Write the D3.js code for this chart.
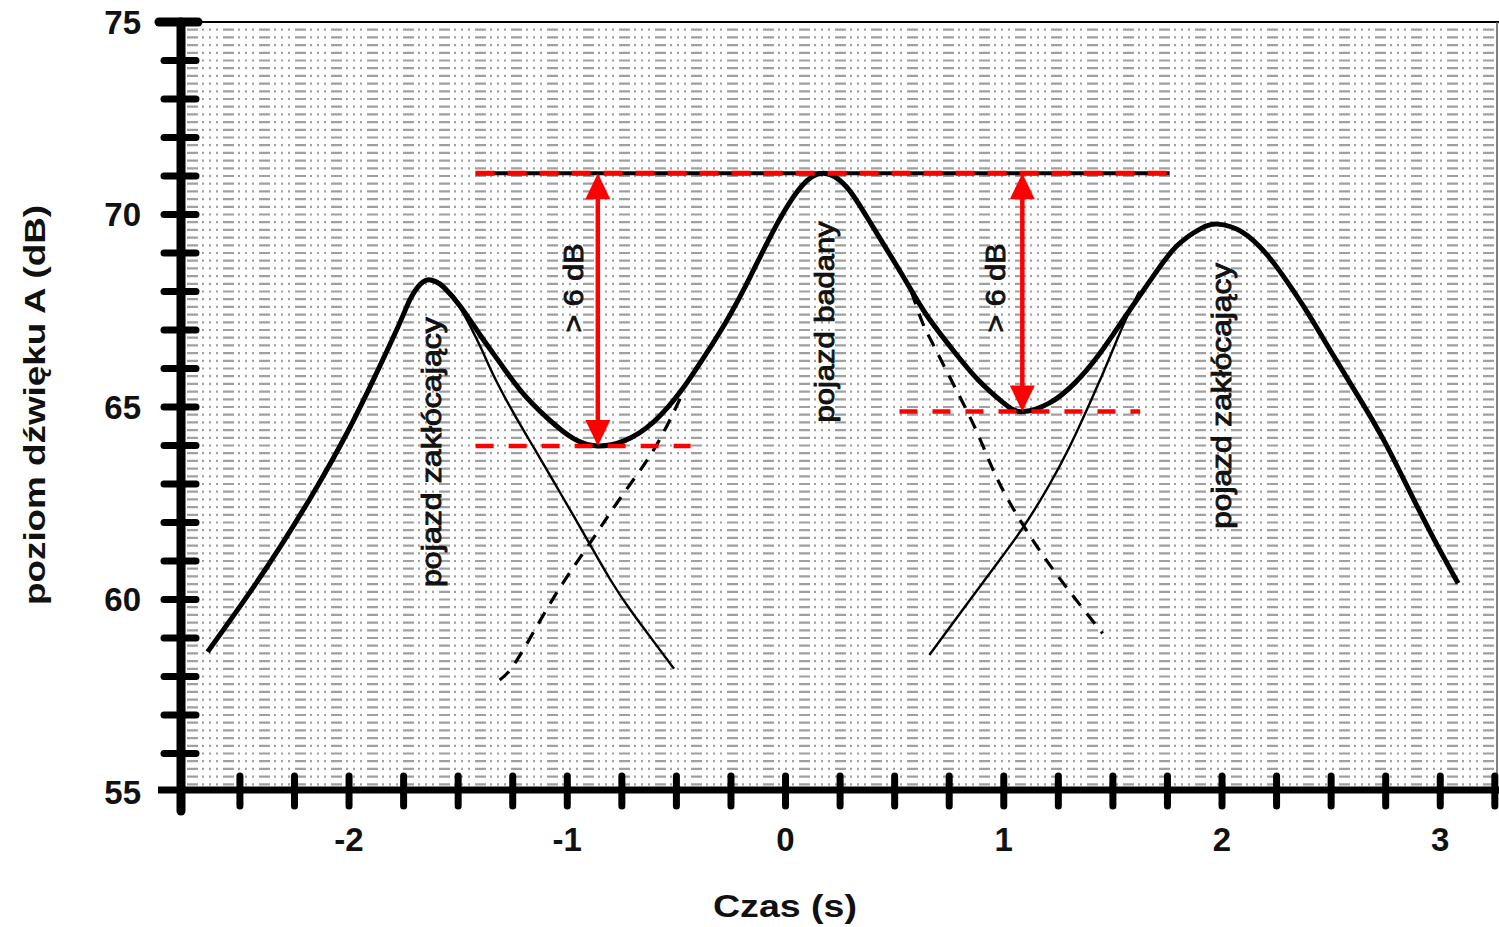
<!DOCTYPE html>
<html><head><meta charset="utf-8">
<script src="https://cdn.jsdelivr.net/npm/d3@7"></script>
<style>html,body{margin:0;padding:0;background:#fff;overflow:hidden}svg{display:block}</style>
</head><body>
<svg id="c" width="1499" height="927"></svg>
<script>
// ---- data (time in s, level in dB(A)) ----
const totalTime  = [-2.648,-2.465,-2.312,-2.160,-2.007,-1.885,-1.778,-1.720,-1.680,-1.641,-1.600,-1.564,-1.488,-1.397,-1.305,-1.213,-1.091,-0.969,-0.862,-0.740,-0.603,-0.481,-0.394,-0.277,-0.162,-0.046,0.071,0.175,0.279,0.372,0.465,0.558,0.651,0.767,0.883,1.000,1.085,1.208,1.325,1.440,1.557,1.673,1.789,1.905,1.979,2.091,2.207,2.299,2.392,2.509,2.625,2.741,2.857,2.973,3.082];
const totalLevel = [58.64,60.10,61.40,62.80,64.35,65.75,67.05,67.80,68.15,68.30,68.25,68.10,67.60,66.85,66.12,65.42,64.71,64.17,63.99,64.12,64.62,65.40,66.12,67.17,68.38,69.68,70.72,71.07,70.72,69.94,69.08,68.21,67.35,66.48,65.70,65.10,64.88,65.10,65.62,66.39,67.35,68.30,69.16,69.64,69.75,69.55,68.95,68.25,67.45,66.35,65.27,64.14,62.84,61.55,60.42];

const disturb1Time  = [-1.641,-1.564,-1.488,-1.397,-1.336,-1.244,-1.152,-1.061,-0.969,-0.893,-0.801,-0.710,-0.603,-0.511];
const disturb1Level = [68.30,68.10,67.55,66.55,65.80,64.82,63.93,63.05,62.15,61.40,60.50,59.72,58.90,58.20];

const testedRiseTime  = [-1.310,-1.228,-1.061,-0.893,-0.755,-0.603,-0.472];
const testedRiseLevel = [57.91,58.45,60.06,61.49,62.65,63.90,65.35];

const testedFallTime  = [0.577,0.627,0.674,0.751,0.873,0.980,1.132,1.285,1.453];
const testedFallLevel = [67.99,67.20,66.65,65.79,64.40,63.02,61.55,60.33,59.12];

const disturb2Time  = [0.659,0.827,0.980,1.094,1.209,1.300,1.364,1.438,1.497,1.561,1.621];
const disturb2Level = [58.56,59.85,61.02,61.92,62.98,63.95,64.72,65.66,66.45,67.30,68.00];

const peakLevel = 71.07, troughLevels = [63.99, 64.88], troughTimes = [-0.86, 1.085];
const peakLineRange = [-1.42, 1.76];
const troughLineRanges = [[-1.42, -0.435], [0.522, 1.625]];

const xMajorTicks = [-2, -1, 0, 1, 2, 3];
const xMinorTicks = d3.range(-2.5, 3.26, 0.25);
const yMajorTicks = [55, 60, 65, 70, 75];
const yMinorTicks = d3.range(56, 75, 1);
const gridRows = d3.range(55.2, 74.95, 0.2);

const labels = [
  {text: "pojazd zakłócający", t: -1.621, v: 63.83, len: 270},
  {text: "pojazd badany",      t: 0.179,  v: 67.21, len: 201},
  {text: "pojazd zakłócający", t: 2.001,  v: 65.29, len: 266},
  {text: "> 6 dB",             t: -0.971, v: 68.09, len: 89},
  {text: "> 6 dB",             t: 0.966,  v: 68.09, len: 89}
];
const xTitle = "Czas (s)";
const yTitle = "poziom dźwięku A (dB)";

// ---- drawing ----
const svg = d3.select("#c");
const x = d3.scaleLinear().domain([-2.77, 3.26]).range([181, 1497]);
const y = d3.scaleLinear().domain([55, 75]).range([792, 22]);
const FONT = "'Liberation Sans', Arial, sans-serif";

// grid texture
svg.append("g").selectAll("line").data(gridRows).join("line")
  .attr("x1", x(-2.77) + 6).attr("x2", x(3.26))
  .attr("y1", d => y(d)).attr("y2", d => y(d))
  .attr("stroke", "#a0a0a0").attr("stroke-width", 2.2)
  .attr("stroke-dasharray", "11,4,2,5,2,5,2,5");

// frame top/right
svg.append("line").attr("x1", x(-2.77)).attr("x2", 1499).attr("y1", y(75)).attr("y2", y(75))
  .attr("stroke", "#000").attr("stroke-width", 2);
svg.append("line").attr("x1", x(3.26)).attr("x2", x(3.26)).attr("y1", y(75)).attr("y2", y(55))
  .attr("stroke", "#555").attr("stroke-width", 1.5);

const line = d3.line().x(d => x(d[0])).y(d => y(d[1])).curve(d3.curveNatural);
const pts = (ts, vs) => ts.map((t, i) => [t, vs[i]]);

// component curves
svg.append("path").attr("d", line(pts(testedRiseTime, testedRiseLevel)))
  .attr("fill", "none").attr("stroke", "#000").attr("stroke-width", 3.2).attr("stroke-dasharray", "13,10");
svg.append("path").attr("d", line(pts(testedFallTime, testedFallLevel)))
  .attr("fill", "none").attr("stroke", "#000").attr("stroke-width", 3.2).attr("stroke-dasharray", "13,10");
svg.append("path").attr("d", line(pts(disturb1Time, disturb1Level)))
  .attr("fill", "none").attr("stroke", "#000").attr("stroke-width", 2.4);
svg.append("path").attr("d", line(pts(disturb2Time, disturb2Level)))
  .attr("fill", "none").attr("stroke", "#000").attr("stroke-width", 2.4);

// total curve
svg.append("path").attr("d", line(pts(totalTime, totalLevel)))
  .attr("fill", "none").attr("stroke", "#000").attr("stroke-width", 5).attr("stroke-linejoin", "round");

// reference lines
svg.append("line").attr("x1", x(peakLineRange[0])).attr("x2", x(peakLineRange[1]))
  .attr("y1", y(peakLevel)).attr("y2", y(peakLevel)).attr("stroke", "#000").attr("stroke-width", 4);
svg.append("line").attr("x1", x(peakLineRange[0])).attr("x2", x(peakLineRange[1]))
  .attr("y1", y(peakLevel)).attr("y2", y(peakLevel)).attr("stroke", "#ff0000").attr("stroke-width", 5)
  .attr("stroke-dasharray", "19,13");
troughLineRanges.forEach((r, i) => {
  svg.append("line").attr("x1", x(r[0])).attr("x2", x(r[1]))
    .attr("y1", y(troughLevels[i])).attr("y2", y(troughLevels[i]))
    .attr("stroke", "#ff0000").attr("stroke-width", 4.5).attr("stroke-dasharray", "18,15");
});

// arrows
troughTimes.forEach((t, i) => {
  const xx = x(t), yt = y(peakLevel), yb = y(troughLevels[i]);
  const hl = 26, hw = 12.5;
  svg.append("line").attr("x1", xx).attr("x2", xx).attr("y1", yt + hl - 2).attr("y2", yb - hl + 2)
    .attr("stroke", "#ff0000").attr("stroke-width", 4.5);
  svg.append("path").attr("d", `M${xx},${yt}L${xx - hw},${yt + hl}L${xx + hw},${yt + hl}Z`).attr("fill", "#ff0000");
  svg.append("path").attr("d", `M${xx},${yb}L${xx - hw},${yb - hl}L${xx + hw},${yb - hl}Z`).attr("fill", "#ff0000");
});

// labels inside
labels.forEach(l => {
  svg.append("text").attr("transform", `translate(${x(l.t)},${y(l.v)}) rotate(-90)`)
    .attr("text-anchor", "middle").attr("dominant-baseline", "central")
    .attr("font-family", FONT).attr("font-size", 27)
    .attr("textLength", l.len).attr("lengthAdjust", "spacingAndGlyphs")
    .attr("fill", "#111").attr("stroke", "#111").attr("stroke-width", 0.9).text(l.text);
});

// axes
const ax = svg.append("g");
ax.selectAll(".ymin").data(yMinorTicks).join("line")
  .attr("x1", 164).attr("x2", 196).attr("y1", d => y(d)).attr("y2", d => y(d))
  .attr("stroke", "#000").attr("stroke-width", 7).attr("stroke-linecap", "round");
ax.append("line").attr("x1", 159).attr("x2", 198).attr("y1", y(75)).attr("y2", y(75))
  .attr("stroke", "#000").attr("stroke-width", 9).attr("stroke-linecap", "round");
ax.selectAll(".xmin").data(xMinorTicks).join("line")
  .attr("x1", d => x(d)).attr("x2", d => x(d)).attr("y1", 776).attr("y2", 806)
  .attr("stroke", "#000").attr("stroke-width", 7).attr("stroke-linecap", "round");
ax.append("line").attr("x1", x(-2.77)).attr("x2", x(-2.77)).attr("y1", y(75)).attr("y2", 811)
  .attr("stroke", "#000").attr("stroke-width", 9).attr("stroke-linecap", "round");
ax.append("line").attr("x1", 158).attr("x2", 1499).attr("y1", 790).attr("y2", 790)
  .attr("stroke", "#000").attr("stroke-width", 7);

// tick labels
ax.selectAll(".ylab").data(yMajorTicks).join("text")
  .attr("x", 141).attr("y", d => y(d)).attr("text-anchor", "end").attr("dominant-baseline", "central")
  .attr("font-family", FONT).attr("font-weight", "bold").attr("font-size", 33).attr("fill", "#111")
  .text(d => d);
ax.selectAll(".xlab").data(xMajorTicks).join("text")
  .attr("x", d => x(d)).attr("y", 839).attr("text-anchor", "middle").attr("dominant-baseline", "central")
  .attr("font-family", FONT).attr("font-weight", "bold").attr("font-size", 33).attr("fill", "#111")
  .text(d => d);

// axis titles
svg.append("text").attr("x", 785).attr("y", 906).attr("text-anchor", "middle").attr("dominant-baseline", "central")
  .attr("font-family", FONT).attr("font-weight", "bold").attr("font-size", 31).attr("fill", "#111")
  .attr("textLength", 144).attr("lengthAdjust", "spacingAndGlyphs").text(xTitle);
svg.append("text").attr("transform", "translate(34,405) rotate(-90)").attr("text-anchor", "middle")
  .attr("dominant-baseline", "central")
  .attr("font-family", FONT).attr("font-weight", "bold").attr("font-size", 30).attr("fill", "#111")
  .attr("textLength", 400).attr("lengthAdjust", "spacingAndGlyphs").text(yTitle);
</script>
</body></html>
